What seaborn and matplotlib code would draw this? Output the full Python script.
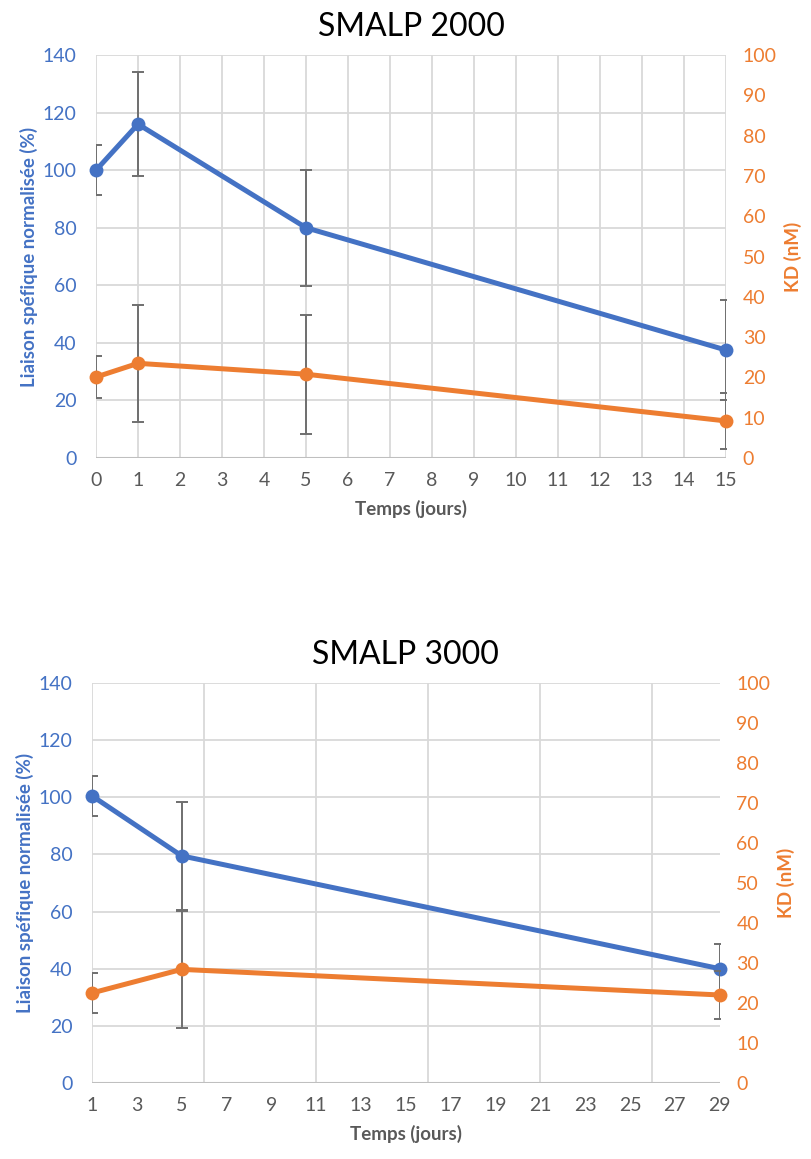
import numpy as np
import pandas as pd
import matplotlib
matplotlib.use("Agg")
import matplotlib.pyplot as plt
import seaborn as sns

# SMALP 2000
days_2000 = [0, 1, 5, 15]
binding_2000 = [100.0, 116.0, 80.0, 37.5]
binding_err_2000 = [8.7, 18.0, 20.2, 17.5]
kd_2000 = [20.1, 23.5, 20.8, 9.2]
kd_err_2000 = [5.2, 14.5, 14.8, 7.0]

# SMALP 3000
days_3000 = [1, 5, 29]
binding_3000 = [100.5, 79.5, 40.0]
binding_err_3000 = [7.0, 19.0, 8.8]
kd_3000 = [22.5, 28.4, 22.0]
kd_err_3000 = [5.0, 14.6, 6.0]

titles = ["SMALP 2000", "SMALP 3000"]
xticks_2000 = list(range(0, 16))
xticks_3000 = list(range(1, 30, 2))
xgrid_3000 = [1, 6, 11, 16, 21, 26]
left_ticks = list(range(0, 141, 20))
right_ticks = list(range(0, 101, 10))

BLUE = "#4472C4"
ORANGE = "#ED7D31"
GRAY_TXT = "#595959"
GRID = "#D9D9D9"
ERR = "#6F6F6F"

sns.set_style("white")
plt.rcParams["font.family"] = ["Lato", "DejaVu Sans"]

fig = plt.figure(figsize=(8.11, 11.59), dpi=100)


def panel(rect, title, days, bind, bind_err, kd, kd_err, xlim, xticks, xgrid):
    ax = fig.add_axes(rect)
    ax2 = ax.twinx()
    for a in (ax, ax2):
        for s in a.spines.values():
            s.set_visible(False)
        a.tick_params(length=0)

    ax.set_xlim(*xlim)
    ax.set_ylim(0, 140)
    ax2.set_ylim(0, 100)
    ax.set_yticks(left_ticks)
    ax2.set_yticks(right_ticks)
    ax.set_xticks(xticks)

    # grid drawn manually so vertical lines can differ from tick spacing
    for v in left_ticks[1:]:
        ax.axhline(v, color=GRID, lw=1.3, zorder=0)
    for v in xgrid:
        ax.axvline(v, color=GRID, lw=1.3, zorder=0)
    ax.axhline(0, color="#BFBFBF", lw=1.5, zorder=0.5)

    df_b = pd.DataFrame({"jours": days, "val": bind})
    df_k = pd.DataFrame({"jours": days, "val": kd})

    ax.errorbar(days, bind, yerr=bind_err, fmt="none", ecolor=ERR,
                elinewidth=1.4, capsize=4, capthick=1.4, zorder=2)
    sns.lineplot(data=df_b, x="jours", y="val", ax=ax, color=BLUE, lw=3.6,
                 marker="o", markersize=10, markeredgewidth=0, zorder=3,
                 clip_on=False)
    ax2.errorbar(days, kd, yerr=kd_err, fmt="none", ecolor=ERR,
                 elinewidth=1.4, capsize=4, capthick=1.4, zorder=2)
    sns.lineplot(data=df_k, x="jours", y="val", ax=ax2, color=ORANGE, lw=3.6,
                 marker="o", markersize=10, markeredgewidth=0, zorder=3,
                 clip_on=False)

    ax.tick_params(axis="y", colors=BLUE, labelsize=14, pad=14)
    ax2.tick_params(axis="y", colors=ORANGE, labelsize=14, pad=12)
    ax.tick_params(axis="x", colors=GRAY_TXT, labelsize=14, pad=10)

    ax.set_xlabel("Temps (jours)", color=GRAY_TXT, fontsize=13.5, fontweight="bold", labelpad=8)
    ax.set_ylabel("Liaison spéfique normalisée (%)", color=BLUE, fontsize=13.5,
                  fontweight="bold", labelpad=3)
    ax2.set_ylabel("KD (nM)", color=ORANGE, fontsize=13.5, fontweight="bold", labelpad=5)
    ax.set_title(title, fontsize=23, color="black", pad=14)
    return ax, ax2


panel([0.1184, 0.6048, 0.777, 0.3477], titles[0], days_2000, binding_2000,
      binding_err_2000, kd_2000, kd_err_2000, (0, 15), xticks_2000, xticks_2000)
panel([0.1134, 0.0656, 0.774, 0.3451], titles[1], days_3000, binding_3000,
      binding_err_3000, kd_3000, kd_err_3000, (1, 29), xticks_3000, xgrid_3000)

fig.savefig("out.png", dpi=100)
